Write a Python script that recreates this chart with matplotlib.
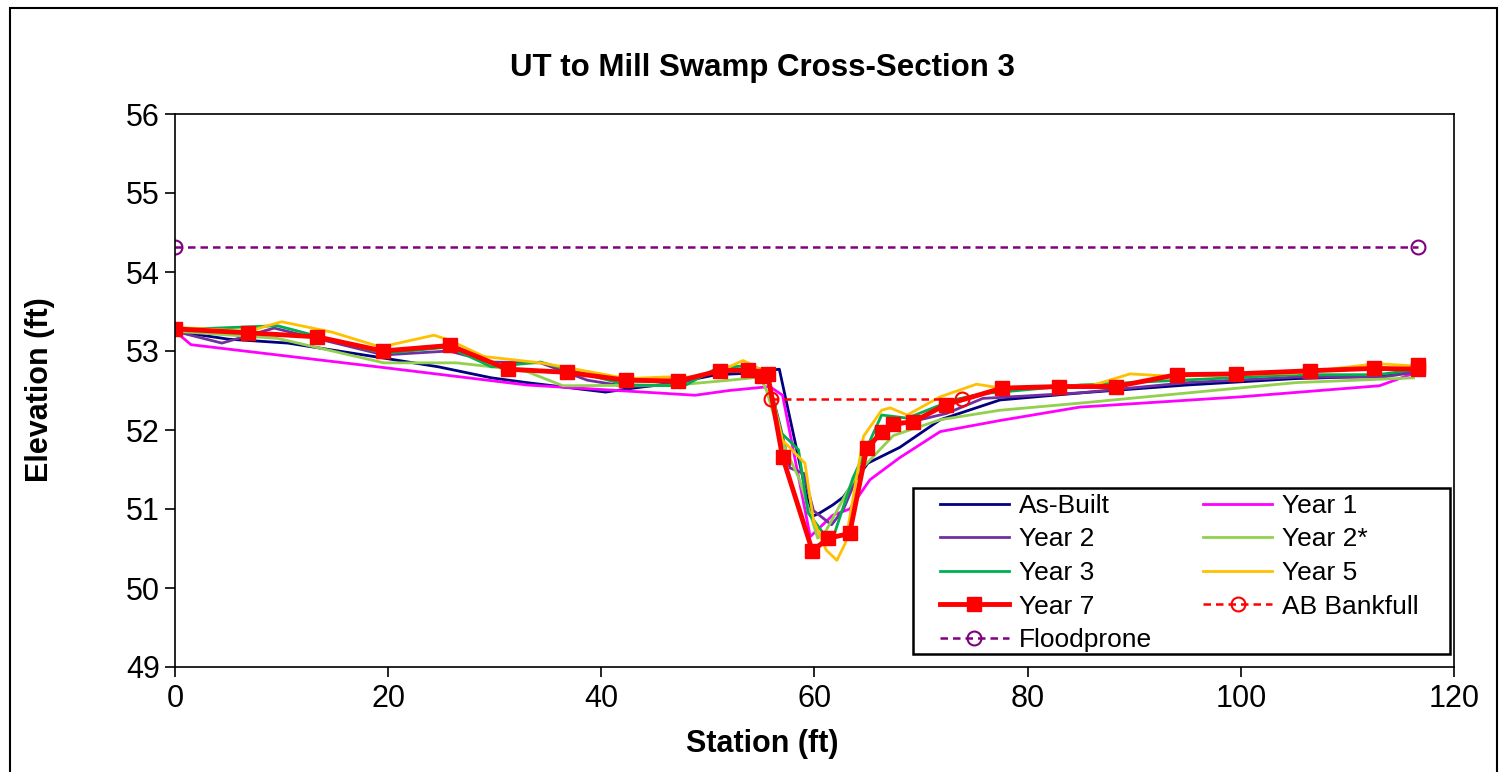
import matplotlib
matplotlib.use("Agg")
import matplotlib.pyplot as plt
from matplotlib.patches import Rectangle

plt.rcParams['font.family'] = ['Liberation Sans', 'DejaVu Sans']

title = "UT to Mill Swamp Cross-Section 3"
xlabel = "Station (ft)"
ylabel = "Elevation (ft)"

asbuilt_x = [0, 5, 10.6, 19.6, 24.7, 29.7, 33, 40.4, 43, 47.1, 50.8, 54, 56.7, 59.7, 60.5, 61.7, 62.7, 65, 68, 71.8, 77.4, 85, 95, 105, 112.5, 116.5]
asbuilt_y = [53.25, 53.15, 53.1, 52.91, 52.8, 52.66, 52.6, 52.48, 52.53, 52.6, 52.7, 52.72, 52.77, 50.9, 50.95, 51.05, 51.15, 51.58, 51.78, 52.13, 52.38, 52.47, 52.57, 52.65, 52.68, 52.75]

y1_x = [0, 1.5, 19.6, 33, 48.8, 52, 55.8, 57, 59.6, 61.7, 63.3, 65.2, 68, 71.8, 77.4, 84.9, 100, 113, 116.5]
y1_y = [53.25, 53.08, 52.79, 52.57, 52.44, 52.5, 52.55, 52.44, 50.65, 50.92, 51.0, 51.37, 51.65, 51.98, 52.12, 52.29, 52.42, 52.56, 52.73]

y2_x = [0, 4.4, 9.3, 19.6, 25.7, 29.7, 34.3, 38.7, 42.4, 47.1, 50.8, 55.5, 56.8, 57.7, 59, 59.9, 61.6, 62.7, 64.9, 66.3, 68, 72.4, 75.8, 84.9, 95, 105.2, 113.3, 116.3]
y2_y = [53.25, 53.1, 53.29, 52.95, 53.0, 52.86, 52.85, 52.63, 52.55, 52.57, 52.75, 52.72, 52.04, 51.52, 51.45, 50.98, 50.8, 50.99, 51.7, 52.0, 52.07, 52.21, 52.4, 52.47, 52.6, 52.67, 52.67, 52.73]

y2s_x = [0, 9.6, 19.6, 26.4, 29.7, 33, 36.4, 47.1, 52, 54.9, 55.5, 56.8, 58.6, 60.3, 61.1, 64, 67.4, 71.8, 77.4, 84.9, 105.2, 116.2]
y2s_y = [53.25, 53.16, 52.85, 52.85, 52.8, 52.74, 52.56, 52.57, 52.63, 52.67, 52.5, 51.9, 51.37, 50.63, 50.73, 51.45, 51.93, 52.13, 52.25, 52.34, 52.6, 52.66]

y3_x = [0, 9.6, 13.6, 19.6, 25.7, 29.7, 34.3, 36.4, 42.4, 47.8, 50.8, 54, 55.5, 56.9, 58.5, 59.4, 60.8, 61.9, 63.6, 66.3, 68.7, 73, 75.8, 84.9, 105.2, 112.8, 116.3]
y3_y = [53.27, 53.32, 53.18, 52.97, 53.05, 52.8, 52.86, 52.78, 52.57, 52.56, 52.78, 52.82, 52.74, 51.96, 51.75, 50.95, 50.7, 50.7, 51.39, 52.19, 52.15, 52.38, 52.46, 52.57, 52.7, 52.7, 52.76]

y5_x = [0, 6.9, 10, 14.7, 19.3, 24.3, 25.7, 29, 34.3, 36.4, 42.4, 45.8, 48.8, 52, 53.3, 54.2, 55.5, 57, 59.1, 59.9, 61.1, 62.1, 62.9, 64.6, 66.3, 67.1, 68.7, 71.8, 75.2, 77.5, 86.2, 89.6, 93.6, 105.2, 112.8, 116.3]
y5_y = [53.3, 53.25, 53.37, 53.24, 53.05, 53.2, 53.14, 52.93, 52.85, 52.8, 52.65, 52.67, 52.67, 52.8, 52.88, 52.82, 52.72, 51.87, 51.58, 50.86, 50.48, 50.35, 50.57, 51.92, 52.25, 52.28, 52.19, 52.42, 52.58, 52.53, 52.57, 52.71, 52.68, 52.72, 52.84, 52.81]

y7_x = [0, 6.85, 13.3, 19.5, 25.8, 31.2, 36.8, 42.3, 47.2, 51.1, 53.8, 55.1, 55.6, 57.0, 59.8, 61.3, 63.3, 64.9, 66.3, 67.4, 69.2, 72.3, 77.6, 82.9, 88.3, 94.0, 99.5, 106.5, 112.5, 116.6, 116.6]
y7_y = [53.28, 53.23, 53.18, 53.0, 53.07, 52.77, 52.73, 52.63, 52.62, 52.75, 52.76, 52.68, 52.71, 51.66, 50.47, 50.63, 50.69, 51.77, 51.97, 52.08, 52.1, 52.32, 52.53, 52.55, 52.55, 52.7, 52.71, 52.75, 52.78, 52.77, 52.82]

bkf_x = [55.9, 73.8]
bkf_y = [52.39, 52.39]

fp_x = [0, 116.6]
fp_y = [54.32, 54.32]

W, H = 1503, 772
fig = plt.figure(figsize=(W/100, H/100), dpi=100)
ax = fig.add_axes([175/W, 1-667/H, (1454-175)/W, (667-114)/H])

lw = 2.0
h_ab, = ax.plot(asbuilt_x, asbuilt_y, color='#000080', lw=lw, label='As-Built')
h_y1, = ax.plot(y1_x, y1_y, color='#FF00FF', lw=lw, label='Year 1')
h_y2, = ax.plot(y2_x, y2_y, color='#7030A0', lw=lw, label='Year 2')
h_y2s, = ax.plot(y2s_x, y2s_y, color='#92D050', lw=lw, label='Year 2*')
h_y3, = ax.plot(y3_x, y3_y, color='#00B050', lw=lw, label='Year 3')
h_y5, = ax.plot(y5_x, y5_y, color='#FFC000', lw=lw, label='Year 5')
h_y7, = ax.plot(y7_x, y7_y, color='#FF0000', lw=3.5, marker='s', ms=9.5, label='Year 7')
h_bk, = ax.plot(bkf_x, bkf_y, color='#FF0000', lw=1.8, ls=(0, (3, 2)), marker='o', ms=10,
                mfc='none', mew=1.5, label='AB Bankfull')
h_fp, = ax.plot(fp_x, fp_y, color='#800080', lw=1.8, ls=(0, (3, 2)), marker='o', ms=10,
                mfc='none', mew=1.5, label='Floodprone')

ax.set_xlim(0, 120)
ax.set_ylim(49, 56)
ax.set_xticks(range(0, 121, 20))
ax.set_yticks(range(49, 57))
ax.tick_params(axis='both', direction='out', length=7, width=1.2, labelsize=22)
ax.tick_params(axis='x', pad=5)
ax.tick_params(axis='y', pad=4)
for s in ax.spines.values():
    s.set_linewidth(1.2)

fig.text(762/W, 1-744/H, xlabel, ha='center', va='center', fontsize=22, fontweight='bold')
fig.text(40/W, 1-390/H, ylabel, ha='center', va='center', fontsize=22, fontweight='bold', rotation=90)
fig.text(762/W, 1-68/H, title, ha='center', va='center', fontsize=22.5, fontweight='bold')

# legend box
box = Rectangle((913/W, 1-654/H), (1450-913)/W, (654-488)/H, transform=fig.transFigure,
                facecolor='white', edgecolor='black', lw=1.8, zorder=4.5)
ax.add_patch(box)

handles = [h_ab, h_y2, h_y3, h_y7, h_fp, h_y1, h_y2s, h_y5, h_bk]
leg = ax.legend(handles=handles, labels=[h.get_label() for h in handles], ncol=2,
                loc='upper left', bbox_to_anchor=(940/W, 1-494/H),
                bbox_transform=fig.transFigure, fontsize=19, frameon=False,
                borderpad=0, labelspacing=0.36, handlelength=2.6,
                handletextpad=0.38, columnspacing=1.95, borderaxespad=0)
leg.set_zorder(5)

fig.patches.append(Rectangle((10/W, -0.05), (1497-10)/W, 1.05-8/H, transform=fig.transFigure,
                             fill=False, edgecolor='black', lw=1.5))

fig.savefig('out.png', dpi=100)
